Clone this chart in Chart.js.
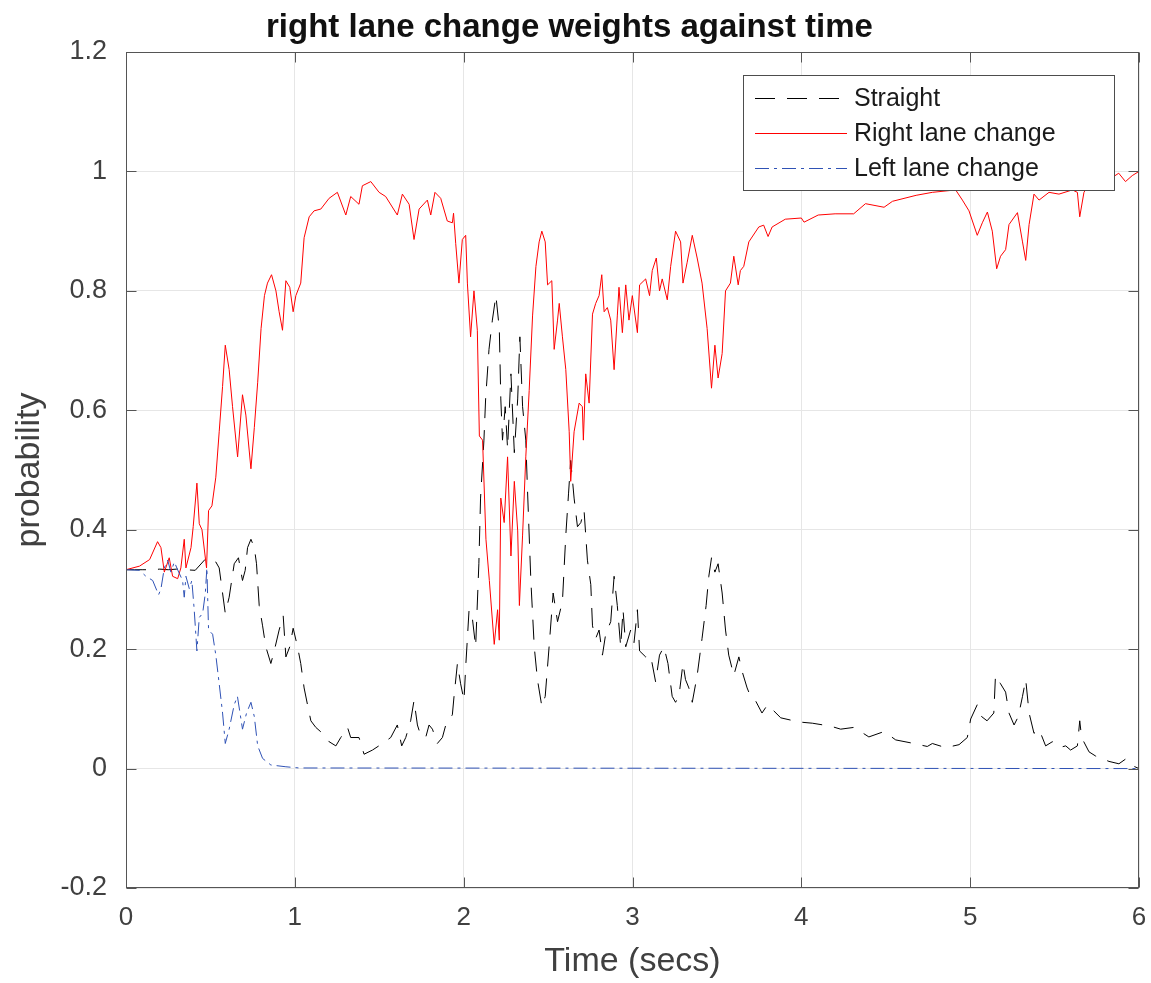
<!DOCTYPE html>
<html>
<head>
<meta charset="utf-8">
<title>right lane change weights against time</title>
<script src="https://cdn.jsdelivr.net/npm/chart.js@4.4.1/dist/chart.umd.min.js"></script>
<style>
  html, body { margin: 0; padding: 0; background: #fff; }
  #wrap { width: 1151px; height: 983px; }
</style>
</head>
<body>
<div id="wrap"><canvas id="weightsChart" width="1151" height="983"></canvas></div>
<script>
// tick labels
const xTickValues = [0, 1, 2, 3, 4, 5, 6];
const xTickLabels = ['0', '1', '2', '3', '4', '5', '6'];
const yTickValues = [-0.2, 0, 0.2, 0.4, 0.6, 0.8, 1, 1.2];
const yTickLabels = ['-0.2', '0', '0.2', '0.4', '0.6', '0.8', '1', '1.2'];

const seriesNames = ['Straight', 'Right lane change', 'Left lane change'];

// Straight (black dashed)
const straightTime = [
  0, 0.05, 0.1, 0.15, 0.2, 0.25, 0.3, 0.35, 0.41, 0.477,
  0.532, 0.552, 0.588, 0.611, 0.641, 0.666, 0.69, 0.706, 0.72, 0.74,
  0.76, 0.773, 0.789, 0.809, 0.828, 0.858, 0.878, 0.907, 0.931, 0.947,
  0.97, 0.99, 1.016, 1.035, 1.055, 1.075, 1.095, 1.124, 1.164, 1.203,
  1.243, 1.272, 1.312, 1.331, 1.38, 1.41, 1.46, 1.519, 1.568, 1.607,
  1.633, 1.657, 1.686, 1.706, 1.726, 1.746, 1.775, 1.795, 1.815, 1.844,
  1.874, 1.894, 1.933, 1.943, 1.963, 1.982, 2.002, 2.012, 2.032, 2.051,
  2.071, 2.09, 2.1, 2.12, 2.13, 2.15, 2.17, 2.191, 2.211, 2.22,
  2.23, 2.246, 2.26, 2.28, 2.30, 2.32, 2.333, 2.349, 2.368, 2.378,
  2.398, 2.418, 2.437, 2.463, 2.483, 2.506, 2.53, 2.556, 2.585, 2.605,
  2.621, 2.634, 2.654, 2.674, 2.694, 2.713, 2.733, 2.753, 2.763, 2.782,
  2.802, 2.822, 2.841, 2.871, 2.891, 2.91, 2.93, 2.944, 2.96, 2.989,
  3.009, 3.029, 3.042, 3.078, 3.107, 3.137, 3.16, 3.186, 3.21, 3.235,
  3.255, 3.275, 3.299, 3.314, 3.334, 3.354, 3.383, 3.412, 3.436, 3.452,
  3.468, 3.488, 3.507, 3.531, 3.551, 3.57, 3.60, 3.63, 3.649, 3.679,
  3.699, 3.728, 3.767, 3.80, 3.878, 3.986, 4.065, 4.174, 4.233, 4.312,
  4.40, 4.49, 4.559, 4.667, 4.746, 4.776, 4.855, 4.934, 4.983, 5.003,
  5.042, 5.068, 5.10, 5.14, 5.15, 5.18, 5.21, 5.23, 5.26, 5.285,
  5.31, 5.329, 5.349, 5.378, 5.408, 5.447, 5.487, 5.526, 5.566, 5.595,
  5.635, 5.649, 5.66, 5.704, 5.743, 5.822, 5.881, 5.921, 5.96, 6.0
];
const straightProb = [
  0.333, 0.333, 0.333, 0.333, 0.334, 0.333, 0.334, 0.333, 0.332, 0.353,
  0.346, 0.336, 0.26, 0.287, 0.343, 0.353, 0.315, 0.332, 0.37, 0.384,
  0.37, 0.343, 0.273, 0.239, 0.204, 0.176, 0.197, 0.232, 0.256, 0.187,
  0.204, 0.235, 0.204, 0.176, 0.135, 0.107, 0.08, 0.069, 0.059, 0.045,
  0.038, 0.052, 0.069, 0.052, 0.052, 0.024, 0.031, 0.042, 0.052, 0.073,
  0.038, 0.052, 0.08, 0.114, 0.073, 0.055, 0.052, 0.073, 0.066, 0.042,
  0.052, 0.073, 0.09, 0.121, 0.176, 0.142, 0.114, 0.17, 0.266, 0.253,
  0.204, 0.343, 0.453, 0.55, 0.619, 0.702, 0.751, 0.792, 0.737, 0.619,
  0.55, 0.606, 0.536, 0.661, 0.529, 0.619, 0.723, 0.606, 0.55, 0.467,
  0.315, 0.204, 0.149, 0.104, 0.121, 0.204, 0.294, 0.246, 0.28, 0.391,
  0.46, 0.516, 0.453, 0.405, 0.412, 0.433, 0.349, 0.308, 0.239, 0.218,
  0.232, 0.19, 0.225, 0.246, 0.322, 0.273, 0.204, 0.266, 0.204, 0.232,
  0.211, 0.266, 0.197, 0.187, 0.19, 0.145, 0.19, 0.204, 0.176, 0.121,
  0.111, 0.121, 0.176, 0.149, 0.135, 0.111, 0.156, 0.218, 0.273, 0.322,
  0.353, 0.329, 0.343, 0.294, 0.232, 0.19, 0.156, 0.187, 0.163, 0.135,
  0.121, 0.114, 0.093, 0.107, 0.085, 0.078, 0.076, 0.071, 0.066, 0.069,
  0.053, 0.062, 0.048, 0.042, 0.037, 0.042, 0.035, 0.04, 0.052, 0.083,
  0.107, 0.087, 0.08, 0.093, 0.156, 0.142, 0.128, 0.093, 0.073, 0.087,
  0.121, 0.149, 0.093, 0.059, 0.066, 0.038, 0.045, 0.035, 0.038, 0.031,
  0.038, 0.08, 0.052, 0.028, 0.021, 0.012, 0.008, 0.016, 0.005, 0.0
];

// Right lane change (red solid)
const rightTime = [
  0, 0.08, 0.14, 0.187, 0.207, 0.227, 0.256, 0.276, 0.306, 0.325,
  0.345, 0.355, 0.385, 0.398, 0.42, 0.434, 0.45, 0.477, 0.489, 0.509,
  0.532, 0.552, 0.572, 0.588, 0.611, 0.631, 0.661, 0.69, 0.71, 0.74,
  0.76, 0.78, 0.80, 0.82, 0.838, 0.862, 0.888, 0.907, 0.927, 0.947,
  0.97, 0.99, 1.006, 1.035, 1.055, 1.085, 1.114, 1.154, 1.203, 1.252,
  1.302, 1.331, 1.38, 1.40, 1.45, 1.499, 1.538, 1.607, 1.637, 1.677,
  1.706, 1.736, 1.785, 1.805, 1.83, 1.864, 1.903, 1.933, 1.94, 1.953,
  1.972, 1.992, 2.012, 2.022, 2.041, 2.061, 2.081, 2.093, 2.112, 2.132,
  2.152, 2.181, 2.201, 2.211, 2.22, 2.24, 2.26, 2.28, 2.30, 2.32,
  2.33, 2.349, 2.368, 2.388, 2.408, 2.428, 2.447, 2.463, 2.483, 2.497,
  2.522, 2.536, 2.556, 2.566, 2.585, 2.605, 2.625, 2.634, 2.654, 2.684,
  2.703, 2.709, 2.723, 2.743, 2.763, 2.782, 2.802, 2.818, 2.832, 2.851,
  2.871, 2.891, 2.91, 2.92, 2.94, 2.96, 2.979, 2.999, 3.029, 3.042,
  3.078, 3.101, 3.117, 3.141, 3.16, 3.176, 3.206, 3.226, 3.255, 3.285,
  3.299, 3.324, 3.354, 3.383, 3.412, 3.442, 3.468, 3.488, 3.507, 3.531,
  3.551, 3.58, 3.60, 3.626, 3.639, 3.659, 3.689, 3.748, 3.777, 3.803,
  3.827, 3.905, 4.0, 4.016, 4.10, 4.20, 4.31, 4.38, 4.49, 4.54,
  4.68, 4.776, 4.914, 4.954, 4.993, 5.042, 5.072, 5.102, 5.131, 5.157,
  5.18, 5.21, 5.23, 5.28, 5.31, 5.329, 5.349, 5.378, 5.408, 5.467,
  5.526, 5.605, 5.635, 5.649, 5.674, 5.704, 5.82, 5.88, 5.92, 5.96, 6.0
];
const rightProb = [
  0.333, 0.339, 0.35, 0.38, 0.37, 0.329, 0.353, 0.322, 0.318, 0.336,
  0.384, 0.336, 0.37, 0.405, 0.478, 0.41, 0.40, 0.336, 0.432, 0.44,
  0.488, 0.564, 0.64, 0.709, 0.668, 0.606, 0.522, 0.626, 0.592, 0.502,
  0.571, 0.647, 0.737, 0.792, 0.813, 0.827, 0.80, 0.765, 0.734, 0.817,
  0.806, 0.765, 0.792, 0.813, 0.889, 0.924, 0.934, 0.937, 0.955, 0.965,
  0.927, 0.958, 0.945, 0.976, 0.983, 0.965, 0.958, 0.927, 0.962, 0.945,
  0.886, 0.937, 0.952, 0.927, 0.965, 0.955, 0.917, 0.914, 0.93, 0.879,
  0.813, 0.886, 0.893, 0.813, 0.723, 0.80, 0.734, 0.557, 0.55, 0.384,
  0.315, 0.208, 0.266, 0.215, 0.453, 0.412, 0.522, 0.356, 0.481, 0.398,
  0.273, 0.391, 0.522, 0.633, 0.758, 0.841, 0.882, 0.90, 0.882, 0.81,
  0.817, 0.702, 0.751, 0.779, 0.723, 0.668, 0.564, 0.481, 0.564, 0.612,
  0.606, 0.55, 0.661, 0.612, 0.761, 0.779, 0.792, 0.827, 0.765, 0.772,
  0.751, 0.668, 0.758, 0.806, 0.73, 0.81, 0.751, 0.792, 0.73, 0.81,
  0.82, 0.792, 0.834, 0.855, 0.80, 0.82, 0.785, 0.841, 0.90, 0.882,
  0.813, 0.848, 0.893, 0.855, 0.813, 0.737, 0.637, 0.709, 0.654, 0.695,
  0.80, 0.813, 0.858, 0.81, 0.834, 0.841, 0.882, 0.907, 0.91, 0.891,
  0.907, 0.92, 0.922, 0.915, 0.927, 0.929, 0.929, 0.946, 0.94, 0.95,
  0.96, 0.965, 0.969, 0.952, 0.934, 0.893, 0.914, 0.932, 0.9, 0.837,
  0.858, 0.869, 0.911, 0.931, 0.882, 0.851, 0.911, 0.962, 0.952, 0.965,
  0.962, 0.969, 0.965, 0.924, 0.965, 0.979, 0.986, 0.997, 0.983, 0.993, 1.0
];

// Left lane change (blue dash-dot)
const leftTime = [
  0, 0.08, 0.118, 0.158, 0.193, 0.207, 0.227, 0.247, 0.266, 0.286,
  0.312, 0.335, 0.345, 0.355, 0.375, 0.39, 0.404, 0.42, 0.434, 0.454,
  0.47, 0.479, 0.489, 0.513, 0.532, 0.552, 0.572, 0.588, 0.611, 0.641,
  0.66, 0.69, 0.714, 0.74, 0.76, 0.78, 0.809, 0.858, 0.947, 1.026, 6.0
];
const leftProb = [
  0.333, 0.332, 0.322, 0.315, 0.291, 0.301, 0.336, 0.349, 0.329, 0.346,
  0.329, 0.315, 0.287, 0.322, 0.301, 0.315, 0.266, 0.197, 0.253, 0.26,
  0.294, 0.336, 0.232, 0.225, 0.19, 0.142, 0.093, 0.042, 0.066, 0.107,
  0.121, 0.066, 0.093, 0.111, 0.087, 0.038, 0.017, 0.006, 0.003, 0.001, 0.0
];

const FONT = "'Liberation Sans', Arial, Helvetica, sans-serif";

function toPoints(times, probs) {
    const n = Math.min(times.length, probs.length);
    const pts = [];
    for (let i = 0; i < n; i++) pts.push({ x: times[i], y: probs[i] });
    return pts;
}

// axes box with inward ticks, like the MATLAB figure
const framePlugin = {
    id: 'frame',
    afterDatasetsDraw(chart) {
        const { ctx, chartArea: a, scales } = chart;
        const L = Math.round(a.left) + 0.5, R = Math.round(a.right) - 0.5;
        const T = Math.round(a.top) + 0.5, B = Math.round(a.bottom) - 0.5;
        ctx.save();
        ctx.strokeStyle = '#555555';
        ctx.lineWidth = 1;
        ctx.strokeRect(L, T, R - L, B - T);
        ctx.beginPath();
        yTickValues.forEach(v => {
            const py = Math.round(scales.y.getPixelForValue(v)) + 0.5;
            ctx.moveTo(L, py); ctx.lineTo(L + 10, py);
            ctx.moveTo(R, py); ctx.lineTo(R - 10, py);
        });
        xTickValues.forEach(v => {
            const px = Math.round(scales.x.getPixelForValue(v)) + 0.5;
            ctx.moveTo(px, B); ctx.lineTo(px, B - 10);
            ctx.moveTo(px, T); ctx.lineTo(px, T + 10);
        });
        ctx.stroke();
        ctx.restore();
    }
};

// legend box inside the plot, top right
const boxLegendPlugin = {
    id: 'boxLegend',
    afterDraw(chart) {
        const { ctx } = chart;
        const left = 743, top = 75, width = 371, height = 115;
        const rowY = [98, 133, 168];
        ctx.save();
        ctx.fillStyle = '#ffffff';
        ctx.fillRect(left, top, width, height);
        ctx.strokeStyle = '#4d4d4d';
        ctx.lineWidth = 1;
        ctx.strokeRect(left + 0.5, top + 0.5, width, height);
        ctx.font = '25px ' + FONT;
        ctx.textBaseline = 'middle';
        chart.data.datasets.forEach((ds, i) => {
            const y = rowY[i] + 0.5;
            ctx.beginPath();
            ctx.strokeStyle = ds.borderColor;
            ctx.setLineDash(ds.borderDash || []);
            ctx.moveTo(755, y);
            ctx.lineTo(847, y);
            ctx.stroke();
            ctx.setLineDash([]);
            ctx.fillStyle = '#1a1a1a';
            ctx.fillText(ds.label, 854, rowY[i] + 1);
        });
        ctx.restore();
    }
};

new Chart(document.getElementById('weightsChart').getContext('2d'), {
    type: 'line',
    data: {
        datasets: [
            {
                label: seriesNames[0],
                data: toPoints(straightTime, straightProb),
                borderColor: '#000000',
                borderWidth: 1,
                borderDash: [20, 12],
                order: 3
            },
            {
                label: seriesNames[1],
                data: toPoints(rightTime, rightProb),
                borderColor: '#ff0000',
                borderWidth: 1,
                order: 2
            },
            {
                label: seriesNames[2],
                data: toPoints(leftTime, leftProb),
                borderColor: '#2f52b5',
                borderWidth: 1,
                borderDash: [14, 5, 3, 5],
                order: 1
            }
        ]
    },
    options: {
        responsive: false,
        animation: false,
        events: [],
        layout: { padding: { left: 0, right: 12, top: 0, bottom: 0 } },
        elements: {
            point: { radius: 0 },
            line: { tension: 0, fill: false }
        },
        scales: {
            x: {
                type: 'linear',
                min: 0,
                max: 6,
                afterBuildTicks: s => { s.ticks = xTickValues.map(v => ({ value: v })); },
                afterFit: s => { s.height = 95; s.paddingLeft = 0; s.paddingRight = 0; },
                ticks: {
                    callback: (v, i) => xTickLabels[i],
                    font: { family: FONT, size: 26 },
                    color: '#404040',
                    padding: 14,
                    maxRotation: 0
                },
                grid: { color: '#e6e6e6', drawTicks: false },
                border: { display: false },
                title: {
                    display: true,
                    text: 'Time (secs)',
                    font: { family: FONT, size: 34 },
                    color: '#404040',
                    padding: { top: 0, bottom: 1 }
                }
            },
            y: {
                type: 'linear',
                min: -0.2,
                max: 1.2,
                afterBuildTicks: s => { s.ticks = yTickValues.map(v => ({ value: v })); },
                afterFit: s => { s.width = 126; },
                ticks: {
                    callback: (v, i) => yTickLabels[i],
                    font: { family: FONT, size: 27 },
                    color: '#404040',
                    padding: 19
                },
                grid: { color: '#e6e6e6', drawTicks: false },
                border: { display: false },
                title: {
                    display: true,
                    text: 'probability',
                    font: { family: FONT, size: 34 },
                    color: '#404040',
                    padding: { top: 9, bottom: 0 }
                }
            }
        },
        plugins: {
            legend: { display: false },
            tooltip: { enabled: false },
            title: {
                display: true,
                text: 'right lane change weights against time',
                font: { family: FONT, size: 33, weight: 'bold' },
                color: '#111111',
                padding: { top: 8, bottom: 4.4 }
            }
        }
    },
    plugins: [framePlugin, boxLegendPlugin]
});
</script>
</body>
</html>
